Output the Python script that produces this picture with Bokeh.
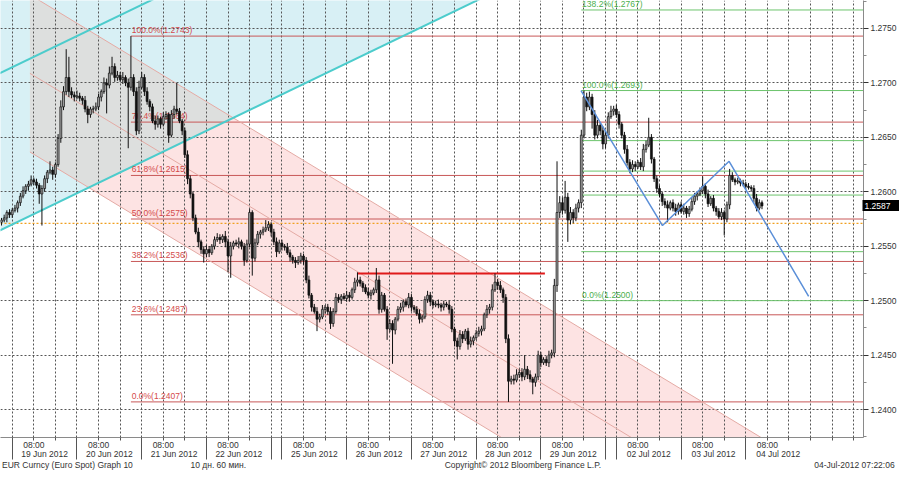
from bokeh.plotting import figure
from bokeh.models import (ColumnDataSource, FixedTicker, LinearAxis, Range1d,
                          PrintfTickFormatter, Grid)
from bokeh.embed import file_html
from bokeh.resources import INLINE
from bokeh.core.properties import value

FONT = "Liberation Sans"

# ---------------- data (hourly EUR/USD bars, x = trading hours from 19 Jun 00:00) ----------------
first_hour = -4
first_open = 1.2572
close = [
    1.2574, 1.2576, 1.2581, 1.2579,
    1.2583, 1.2585, 1.2590, 1.2596, 1.2601, 1.2605, 1.2607, 1.2611, 1.2609, 1.2606,
    1.2598, 1.2603, 1.2612, 1.2618, 1.2620, 1.2616, 1.2625, 1.2649, 1.2678, 1.2692,
    1.2705, 1.2692, 1.2689, 1.2687, 1.2688, 1.2686, 1.2684, 1.2676, 1.2671, 1.2676,
    1.2676, 1.2678, 1.2687, 1.2692, 1.2700, 1.2698, 1.2709, 1.2715, 1.2705, 1.2707,
    1.2703, 1.2705, 1.2700, 1.2696, 1.2705, 1.2692, 1.2656, 1.2696, 1.2705, 1.2692,
    1.2683, 1.2678, 1.2665, 1.2662, 1.2667, 1.2662, 1.2669, 1.2671, 1.2652, 1.2671,
    1.2676, 1.2674, 1.2665, 1.2656, 1.2634, 1.2612, 1.2598, 1.2576, 1.2563, 1.2554,
    1.2547, 1.2543, 1.2547, 1.2544, 1.2550, 1.2556, 1.2558, 1.2556, 1.2559, 1.2554,
    1.2541, 1.2550, 1.2553, 1.2552, 1.2554, 1.2550, 1.2537, 1.2552, 1.2581, 1.2539,
    1.2553, 1.2561, 1.2563, 1.2565, 1.2567, 1.2570, 1.2563, 1.2554, 1.2545, 1.2553,
    1.2550, 1.2549, 1.2544, 1.2540, 1.2537, 1.2535, 1.2537, 1.2541, 1.2537, 1.2519,
    1.2505, 1.2494, 1.2490, 1.2483, 1.2485, 1.2492, 1.2494, 1.2490, 1.2479, 1.2490,
    1.2503, 1.2501, 1.2504, 1.2502, 1.2505, 1.2503, 1.2510, 1.2517, 1.2519, 1.2516,
    1.2512, 1.2508, 1.2505, 1.2507, 1.2510, 1.2519, 1.2492, 1.2505, 1.2492, 1.2474,
    1.2479, 1.2473, 1.2483, 1.2492, 1.2494, 1.2499, 1.2496, 1.2503, 1.2494, 1.2492,
    1.2488, 1.2483, 1.2485, 1.2501, 1.2505, 1.2499, 1.2496, 1.2497, 1.2496, 1.2494,
    1.2497, 1.2496, 1.2492, 1.2474, 1.2463, 1.2458, 1.2469, 1.2465, 1.2472, 1.2460,
    1.2463, 1.2466, 1.2470, 1.2472, 1.2474, 1.2487, 1.2492, 1.2494, 1.2510, 1.2517,
    1.2514, 1.2510, 1.2503, 1.2465, 1.2426, 1.2428, 1.2427, 1.2432, 1.2434, 1.2430,
    1.2437, 1.2432, 1.2428, 1.2425, 1.2430, 1.2450, 1.2443, 1.2446, 1.2443, 1.2450,
    1.2452, 1.2514, 1.2581, 1.2590, 1.2583, 1.2595, 1.2574, 1.2581, 1.2576, 1.2585,
    1.2590, 1.2652, 1.2687, 1.2678, 1.2687, 1.2671, 1.2652, 1.2661, 1.2656, 1.2644,
    1.2652, 1.2669, 1.2674, 1.2676, 1.2671, 1.2662, 1.2652, 1.2639, 1.2627, 1.2621,
    1.2625, 1.2623, 1.2627, 1.2623, 1.2639, 1.2643, 1.2650, 1.2630, 1.2612, 1.2603,
    1.2598, 1.2591, 1.2588, 1.2585, 1.2590, 1.2585, 1.2582, 1.2588, 1.2582, 1.2585,
    1.2580, 1.2584, 1.2591, 1.2596, 1.2598, 1.2601, 1.2605, 1.2598, 1.2589, 1.2594,
    1.2585, 1.2582, 1.2577, 1.2581, 1.2575, 1.2588, 1.2615, 1.2611, 1.2609, 1.2610,
    1.2608, 1.2607, 1.2605, 1.2604, 1.2603, 1.2594, 1.2585, 1.2590, 1.2587,
]
upper_wick_pips = [
    2, 3, 2, 3,
    2, 3, 2, 3, 4, 2, 3, 4, 2, 3,
    2, 3, 3, 2, 8, 3, 2, 4, 6, 5,
    26, 19, 4, 3, 5, 3, 2, 4, 3, 2,
    3, 4, 3, 2, 5, 4, 6, 9, 3, 4,
    3, 5, 2, 4, 38, 3, 4, 6, 5, 3,
    4, 2, 3, 5, 3, 2, 4, 3, 2, 4,
    3, 24, 3, 2, 3, 4, 3, 2, 3, 4,
    2, 3, 4, 3, 2, 3, 4, 3, 2, 5,
    3, 4, 2, 3, 4, 2, 3, 4, 3, 2,
    4, 3, 2, 3, 7, 3, 2, 3, 4, 3,
    3, 2, 4, 3, 2, 3, 4, 3, 2, 3,
    4, 2, 3, 4, 3, 4, 2, 3, 4, 3,
    4, 3, 2, 3, 4, 3, 2, 4, 7, 3,
    2, 3, 4, 3, 2, 11, 4, 3, 2, 3,
    4, 3, 2, 3, 4, 2, 3, 4, 3, 2,
    3, 4, 2, 3, 4, 3, 2, 3, 4, 2,
    3, 2, 4, 3, 2, 3, 4, 3, 2, 3,
    4, 2, 3, 4, 3, 2, 4, 3, 5, 8,
    3, 4, 2, 3, 4, 3, 4, 5, 3, 4,
    13, 3, 4, 2, 3, 4, 3, 2, 3, 4,
    3, 6, 47, 6, 5, 15, 4, 5, 3, 4,
    3, 5, 6, 4, 5, 3, 4, 5, 3, 4,
    3, 4, 5, 3, 4, 3, 2, 3, 4, 3,
    4, 3, 2, 4, 5, 4, 18, 3, 2, 3,
    3, 2, 3, 4, 2, 3, 4, 2, 3, 4,
    2, 3, 4, 3, 2, 3, 9, 3, 4, 2,
    3, 2, 3, 4, 2, 3, 6, 3, 2, 3,
    2, 3, 2, 3, 2, 3, 4, 3, 2,
]
lower_wick_pips = [
    3, 2, 4, 3,
    3, 2, 4, 3, 2, 3, 4, 2, 3, 3,
    9, 29, 3, 4, 2, 5, 3, 2, 4, 3,
    3, 5, 3, 4, 2, 3, 4, 3, 8, 3,
    4, 2, 3, 4, 2, 26, 3, 2, 4, 3,
    2, 4, 3, 56, 3, 4, 4, 3, 2, 4,
    3, 4, 2, 5, 3, 4, 2, 3, 7, 2,
    4, 3, 2, 4, 3, 5, 4, 3, 2, 5,
    4, 8, 3, 4, 2, 3, 2, 4, 3, 5,
    15, 20, 3, 2, 4, 3, 5, 2, 3, 16,
    3, 2, 4, 3, 2, 3, 4, 3, 5, 2,
    4, 3, 2, 4, 3, 5, 2, 3, 4, 3,
    3, 4, 2, 11, 3, 2, 4, 3, 5, 3,
    2, 3, 4, 2, 3, 4, 2, 3, 4, 3,
    4, 2, 3, 4, 2, 3, 4, 3, 2, 10,
    3, 31, 4, 2, 3, 4, 2, 3, 4, 3,
    2, 4, 3, 2, 3, 4, 3, 2, 3, 4,
    3, 2, 4, 3, 5, 12, 3, 4, 2, 5,
    3, 4, 2, 3, 4, 2, 3, 4, 3, 2,
    4, 3, 5, 4, 19, 3, 4, 2, 3, 4,
    3, 4, 3, 11, 4, 3, 4, 2, 3, 4,
    3, 4, 6, 5, 4, 3, 20, 4, 5, 3,
    4, 5, 3, 4, 3, 13, 4, 3, 4, 5,
    4, 3, 2, 4, 3, 4, 3, 4, 3, 4,
    3, 4, 2, 3, 4, 3, 2, 4, 3, 4,
    3, 4, 3, 13, 2, 3, 4, 3, 2, 3,
    4, 3, 2, 3, 4, 2, 3, 4, 3, 2,
    3, 4, 2, 3, 15, 3, 4, 2, 3, 2,
    3, 2, 3, 2, 3, 4, 3, 2, 3,
]

day_labels = ["19 Jun 2012", "20 Jun 2012", "21 Jun 2012", "22 Jun 2012",
              "25 Jun 2012", "26 Jun 2012", "27 Jun 2012", "28 Jun 2012",
              "29 Jun 2012", "02 Jul 2012", "03 Jul 2012", "04 Jul 2012"]
day_start = [0, 24, 48, 72, 100, 124, 148, 172, 196, 224, 248, 272]
sunday_open = [96, 220]
hour_label = "08:00"

y_ticks = [1.2400, 1.2450, 1.2500, 1.2550, 1.2600, 1.2650, 1.2700, 1.2750]
y_minor = [1.2375, 1.2425, 1.2475, 1.2525, 1.2575, 1.2625, 1.2675, 1.2725, 1.2775]

fib_a_pct = ["100.0%", "76.4%", "61.8%", "50.0%", "38.2%", "23.6%", "0.0%"]
fib_a_val = [1.2743, 1.2664, 1.2615, 1.2575, 1.2536, 1.2487, 1.2407]
fib_a_start = 44

fib_b_pct = ["138.2%", "100.0%", "76.4%", "61.8%", "50.0%", "23.6%", "0.0%"]
fib_b_val = [1.2767, 1.2693, 1.2647, 1.2619, 1.2597, 1.2545, 1.2500]
fib_b_show = [True, True, False, False, False, False, True]
fib_b_start = 211

zig_x = [210.9, 241.1, 265.8, 295.3]
zig_y = [1.2693, 1.2569, 1.2628, 1.2504]

resist_x = [128, 197.5]
resist_y = 1.2525
pivot_y = 1.2571
last_price = 1.2587

# descending (pink) regression channel
down_x = [6.55, 320.0]
down_upper = [1.27810, 1.23108]
down_mid = [1.27088, 1.22386]
down_lower = [1.26366, 1.21664]
# ascending (cyan) channel
up_x = [-10.0, 200.0]
up_lower = [1.25581, 1.28088]
up_mid = [1.27025, 1.29532]
up_upper = [1.28469, 1.30976]

footer_text = ["EUR Curncy (Euro Spot) Graph 10", "10 дн. 60 мин.",
               "Copyright\u00a9 2012 Bloomberg Finance L.P.", "04-Jul-2012 07:22:06"]

# ---------------- layout ----------------
W, H = 899, 472
BORDER_R, BORDER_B = 35, 35
FRAME_W = W - BORDER_R
X0, X1 = -4.36, 315.64
Y0, Y1 = 1.23743, 1.27757
footer_center_px = [67, 218, 523, 855]   # centre of each footer text, px from left


def px_to_hour(px):
    return X0 + px * (X1 - X0) / FRAME_W


p = figure(width=W, height=H, output_backend="svg", toolbar_location=None,
           x_range=Range1d(X0, X1), y_range=Range1d(Y0, Y1),
           x_axis_location=None, y_axis_location=None,
           min_border_left=0, min_border_top=0,
           min_border_right=BORDER_R, min_border_bottom=BORDER_B)
p.outline_line_color = None
p.background_fill_color = "white"
p.border_fill_color = "white"
p.xgrid.visible = False
p.ygrid.visible = False


def clip(subject, clipper):
    def inside(q, a, b):
        return (b[0] - a[0]) * (q[1] - a[1]) - (b[1] - a[1]) * (q[0] - a[0]) >= 0

    def inter(p1, p2, a, b):
        x1, y1 = p1; x2, y2 = p2; x3, y3 = a; x4, y4 = b
        den = (x1 - x2) * (y3 - y4) - (y1 - y2) * (x3 - x4)
        t = ((x1 - x3) * (y3 - y4) - (y1 - y3) * (x3 - x4)) / den
        return (x1 + t * (x2 - x1), y1 + t * (y2 - y1))

    out = subject
    for i in range(len(clipper)):
        a, b = clipper[i], clipper[(i + 1) % len(clipper)]
        inp, out = out, []
        for j in range(len(inp)):
            cur, prev = inp[j], inp[j - 1]
            if inside(cur, a, b):
                if not inside(prev, a, b):
                    out.append(inter(prev, cur, a, b))
                out.append(cur)
            elif inside(prev, a, b):
                out.append(inter(prev, cur, a, b))
    return out


S = 10000.0
cyan_poly = [(up_x[0], up_lower[0] * S), (up_x[1], up_lower[1] * S),
             (up_x[1], up_upper[1] * S), (up_x[0], up_upper[0] * S)]
pink_poly = [(down_x[0], down_lower[0] * S), (down_x[1], down_lower[1] * S),
             (down_x[1], down_upper[1] * S), (down_x[0], down_upper[0] * S)]
both = clip(cyan_poly, pink_poly)

p.patch([q[0] for q in cyan_poly], [q[1] / S for q in cyan_poly],
        fill_color="#d8f0f5", line_color=None, level="image")
p.patch([q[0] for q in pink_poly], [q[1] / S for q in pink_poly],
        fill_color="#fde3e3", line_color=None, level="image")
if both:
    p.patch([q[0] for q in both], [q[1] / S for q in both],
            fill_color="#dddfde", line_color=None, level="image")

# grids
grid_hours = sorted(set([d + k for d in day_start for k in (0, 8, 16)] + sunday_open +
                        [280, 288, 296, 304, 312]))
p.add_layout(Grid(dimension=0, ticker=FixedTicker(ticks=grid_hours),
                  grid_line_color="#555555", grid_line_dash="2 2", grid_line_width=1))
p.add_layout(Grid(dimension=1, ticker=FixedTicker(ticks=y_ticks),
                  grid_line_color="#555555", grid_line_dash="2 2", grid_line_width=1))

# pivot dotted line
p.line([X0, X1], [pivot_y, pivot_y], line_color="#f0a020", line_dash="2 2", line_width=1.3)

# fib B (green)
for v in fib_b_val:
    p.line([fib_b_start, X1], [v, v], line_color="#6cc46c", line_width=1)
# fib A (red)
for v in fib_a_val:
    p.line([fib_a_start, X1], [v, v], line_color="#c85858", line_width=1)

# channel lines
for ys in (down_upper, down_mid, down_lower):
    p.line(down_x, ys, line_color="#e4aaa4", line_width=1)
for ys in (up_lower, up_mid):
    p.line(up_x, ys, line_color="#4ccccc", line_width=2)

# fib labels
p.text(x=[fib_a_start + 0.3] * len(fib_a_val), y=fib_a_val,
       text=["%s(%.4f)" % (a, b) for a, b in zip(fib_a_pct, fib_a_val)],
       text_font=value(FONT), text_font_size=value("8.5px"), text_color="#d44a4a",
       text_baseline="bottom", text_align="left", y_offset=-1)
gb = [(a, b) for a, b, s in zip(fib_b_pct, fib_b_val, fib_b_show) if s]
p.text(x=[fib_b_start + 0.3] * len(gb), y=[b for a, b in gb],
       text=["%s(%.4f)" % (a, b) for a, b in gb],
       text_font=value(FONT), text_font_size=value("8.5px"), text_color="#4caf4c",
       text_baseline="bottom", text_align="left", y_offset=-1)

# resistance line
p.line(resist_x, [resist_y, resist_y], line_color="#e01a1a", line_width=2)

# candles
opens = [first_open] + close[:-1]
xs = [first_hour + i for i in range(len(close))]
highs = [max(o, c) + u / 10000.0 for o, c, u in zip(opens, close, upper_wick_pips)]
lows = [min(o, c) - l / 10000.0 for o, c, l in zip(opens, close, lower_wick_pips)]
src = ColumnDataSource(dict(
    x=xs, high=highs, low=lows,
    top=[max(o, c) for o, c in zip(opens, close)],
    bottom=[min(o, c) for o, c in zip(opens, close)],
    fill=["#a0a0a0" if c >= o else "#111111" for o, c in zip(opens, close)]))
p.segment(x0="x", y0="low", x1="x", y1="high", source=src, line_color="#111111", line_width=1)
p.vbar(x="x", width=0.72, top="top", bottom="bottom", source=src,
       fill_color="fill", line_color="#111111", line_width=0.7)

# zigzag
p.line(zig_x, zig_y, line_color="#5b8fd8", line_width=1.5)

# ---------------- axes ----------------
def style_labels(ax, color="#333333"):
    ax.major_label_text_font = FONT
    ax.major_label_text_font_size = "8.5px"
    ax.major_label_text_color = color


yaxis = LinearAxis(ticker=FixedTicker(ticks=y_ticks, minor_ticks=y_minor),
                   formatter=PrintfTickFormatter(format="%.4f"))
yaxis.axis_line_color = "#8a8a8a"
yaxis.major_tick_line_color = "#333333"
yaxis.major_tick_out = 5
yaxis.major_tick_in = 0
yaxis.minor_tick_line_color = "#8a8a8a"
yaxis.minor_tick_out = 3
yaxis.minor_tick_in = 0
yaxis.major_label_standoff = 2
style_labels(yaxis)
p.add_layout(yaxis, "right")

# last-price tag: a thick black tick drawn back towards the frame, white label on it
box_axis = LinearAxis(ticker=FixedTicker(ticks=[last_price], minor_ticks=[]),
                      formatter=PrintfTickFormatter(format="%.4f"))
box_axis.axis_line_color = None
box_axis.minor_tick_line_color = None
box_axis.major_tick_line_color = "black"
box_axis.major_tick_line_width = 11
box_axis.major_tick_line_cap = "butt"
box_axis.major_tick_out = 0
box_axis.major_tick_in = 37
box_axis.major_label_standoff = -35
style_labels(box_axis, "white")
p.add_layout(box_axis, "right")

long_ticks = sorted(day_start + sunday_open)
hour_ticks = [d + 8 for d in day_start]
short_ticks = [g for g in grid_hours if g not in long_ticks and g not in hour_ticks]

ax_hours = LinearAxis(ticker=FixedTicker(ticks=hour_ticks, minor_ticks=short_ticks))
ax_hours.major_label_overrides = {t: hour_label for t in hour_ticks}
ax_hours.axis_line_color = "#8a8a8a"
ax_hours.major_tick_line_color = "#555555"
ax_hours.major_tick_out = 3
ax_hours.major_tick_in = 0
ax_hours.minor_tick_line_color = "#555555"
ax_hours.minor_tick_out = 3
ax_hours.minor_tick_in = 0
ax_hours.major_label_standoff = -1
style_labels(ax_hours)
p.add_layout(ax_hours, "below")

day_mid = [d + 12 for d in day_start]
ax_days = LinearAxis(ticker=FixedTicker(ticks=day_mid, minor_ticks=long_ticks))
ax_days.major_label_overrides = {t: s for t, s in zip(day_mid, day_labels)}
ax_days.axis_line_color = None
ax_days.major_tick_line_color = None
ax_days.major_tick_out = 0
ax_days.major_tick_in = 0
ax_days.minor_tick_line_color = "#555555"
ax_days.minor_tick_in = 15
ax_days.minor_tick_out = 7
ax_days.major_label_standoff = -11
style_labels(ax_days)
p.add_layout(ax_days, "below")

foot_x = [round(px_to_hour(v), 3) for v in footer_center_px]
ax_foot = LinearAxis(ticker=FixedTicker(ticks=foot_x, minor_ticks=[]))
ax_foot.major_label_overrides = {t: s for t, s in zip(foot_x, footer_text)}
ax_foot.axis_line_color = None
ax_foot.major_tick_line_color = None
ax_foot.minor_tick_line_color = None
ax_foot.major_tick_out = 0
ax_foot.major_tick_in = 0
ax_foot.major_label_standoff = -2
style_labels(ax_foot)
p.add_layout(ax_foot, "below")

open("out.html", "w").write(file_html(p, INLINE))
